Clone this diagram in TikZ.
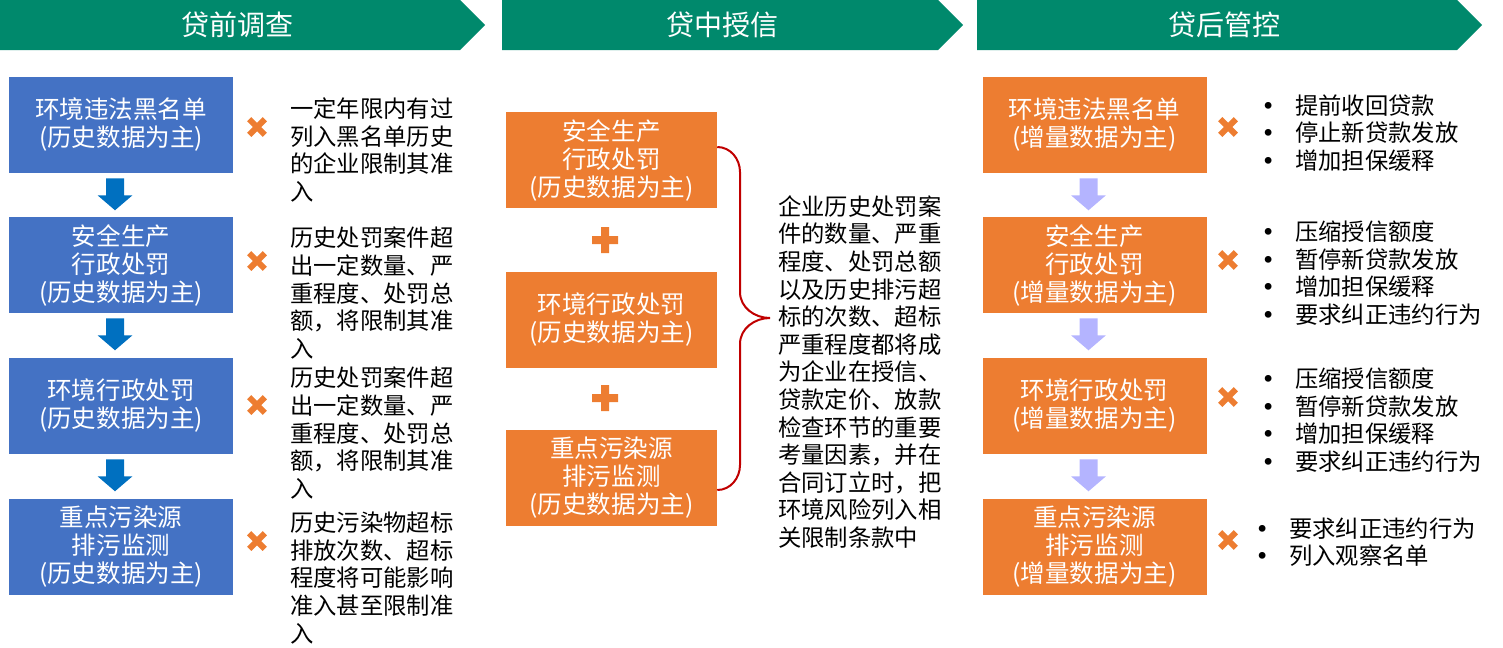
\documentclass[tikz,border=0pt]{standalone}
\usepackage{fontspec}
\setmainfont{Noto Sans CJK SC}
\newfontfamily\symfont{DejaVu Sans}
\usetikzlibrary{positioning}
\definecolor{phasegreen}{RGB}{0,137,108}
\definecolor{boxblue}{RGB}{68,114,196}
\definecolor{boxorange}{RGB}{237,125,49}
\definecolor{arrblue}{RGB}{0,112,192}
\definecolor{arrlav}{RGB}{180,180,255}
\definecolor{bracered}{RGB}{192,0,0}
\newcommand{\dotitem}{\makebox[25.5pt][l]{\symfont •}}

\begin{document}
\begin{tikzpicture}[x=0.75pt,y=-0.75pt,
  stage/.style={text=white,font=\fontsize{21}{25}\selectfont},
  bx/.style={minimum height=72pt,inner sep=0pt,align=center,text=white,font=\fontsize{18.4}{21}\selectfont},
  blue box/.style={bx,fill=boxblue,minimum width=168pt},
  org box/.style={bx,fill=boxorange,minimum width=168pt},
  mid box/.style={bx,fill=boxorange,minimum width=158.25pt},
  desc/.style={anchor=west,align=left,inner sep=0pt,font=\fontsize{17.5}{20.7}\selectfont},
  veto/.pic={\draw[boxorange,line width=4.5pt] (-7.8,-7.8)--(7.8,7.8) (-7.8,7.8)--(7.8,-7.8);},
  plusmark/.pic={\fill[boxorange] (-13,-4) rectangle (13,4) (-4,-13) rectangle (4,13);},
  downarr/.pic={\fill[#1] (-9,0)--(9,0)--(9,17)--(17.5,17)--(0,32)--(-17.5,17)--(-9,17)--cycle;}]
  \useasboundingbox (0,0) rectangle (1503,647);
  \foreach \a/\b in {0/460,502/938,977/1457}
    \fill[phasegreen] (\a,0)--(\b,0)--(\b+25,25)--(\b,50)--(\a,50)--cycle;
  \node[stage] (pre) at (237,25) {贷前调查};
  \node[stage] (mid) at (722,25) {贷中授信};
  \node[stage] (post) at (1224,25) {贷后管控};

  \node[blue box] (l1) at (121,125) {环境违法黑名单\\(历史数据为主)};
  \node[blue box] (l2) at (121,265) {安全生产\\行政处罚\\(历史数据为主)};
  \node[blue box] (l3) at (121,406) {环境行政处罚\\(历史数据为主)};
  \node[blue box] (l4) at (121,547) {重点污染源\\排污监测\\(历史数据为主)};
  \foreach \a in {l1,l2,l3} \pic at ([xshift=-4.5pt,yshift=-3.75pt]\a.south) {downarr=arrblue};
  \foreach \y in {127,261,405,541} \pic at (257,\y) {veto};
  \node[desc] (d1) at (290,150) {一定年限内有过\\列入黑名单历史\\的企业限制其准\\入};
  \node[desc] (d2) at (290,293) {历史处罚案件超\\出一定数量、严\\重程度、处罚总\\额，将限制其准\\入};
  \node[desc] (d3) at (290,433) {历史处罚案件超\\出一定数量、严\\重程度、处罚总\\额，将限制其准\\入};
  \node[desc] (d4) at (290,578) {历史污染物超标\\排放次数、超标\\程度将可能影响\\准入甚至限制准\\入};

  \node[mid box] (m1) at (611.5,160) {安全生产\\行政处罚\\(历史数据为主)};
  \node[mid box] (m2) at (611.5,320) {环境行政处罚\\(历史数据为主)};
  \node[mid box] (m3) at (611.5,478) {重点污染源\\排污监测\\(历史数据为主)};
  \pic at (605,240) {plusmark};
  \pic at (605,398) {plusmark};
  \draw[bracered,line width=1.5pt] ([yshift=9.75pt]m1.east) to[out=0,in=90] (740,172) -- (740,292)
    to[out=-90,in=180] (770,318) to[out=180,in=90] (740,344) -- (740,465) to[out=-90,in=0] ([yshift=-9pt]m3.east);
  \node[desc] (mdesc) at (778,372) {企业历史处罚案\\件的数量、严重\\程度、处罚总额\\以及历史排污超\\标的次数、超标\\严重程度都将成\\为企业在授信、\\贷款定价、放款\\检查环节的重要\\考量因素，并在\\合同订立时，把\\环境风险列入相\\关限制条款中};

  \node[org box] (r1) at (1094.5,125) {环境违法黑名单\\(增量数据为主)};
  \node[org box] (r2) at (1094.5,265) {安全生产\\行政处罚\\(增量数据为主)};
  \node[org box] (r3) at (1094.5,406) {环境行政处罚\\(增量数据为主)};
  \node[org box] (r4) at (1094.5,547) {重点污染源\\排污监测\\(增量数据为主)};
  \foreach \a in {r1,r2,r3} \pic at ([xshift=-4.5pt,yshift=-3.75pt]\a.south) {downarr=arrlav};
  \foreach \y in {127,260,397,540} \pic at (1228,\y) {veto};
  \node[desc] (a1) at (1261,133) {\dotitem 提前收回贷款\\\dotitem 停止新贷款发放\\\dotitem 增加担保缓释};
  \node[desc] (a2) at (1261,273) {\dotitem 压缩授信额度\\\dotitem 暂停新贷款发放\\\dotitem 增加担保缓释\\\dotitem 要求纠正违约行为};
  \node[desc] (a3) at (1261,420) {\dotitem 压缩授信额度\\\dotitem 暂停新贷款发放\\\dotitem 增加担保缓释\\\dotitem 要求纠正违约行为};
  \node[desc] (a4) at (1255,542) {\dotitem 要求纠正违约行为\\\dotitem 列入观察名单};
\end{tikzpicture}
\end{document}
